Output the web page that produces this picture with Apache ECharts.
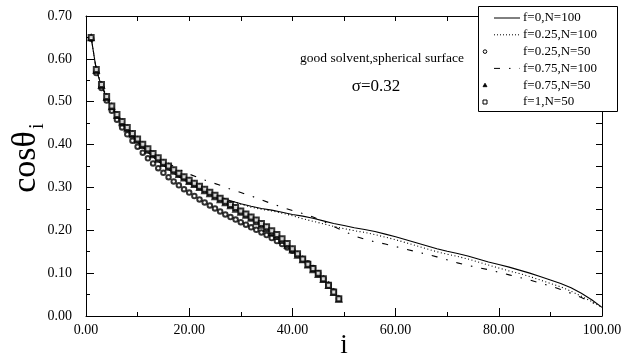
<!DOCTYPE html>
<html><head><meta charset="utf-8">
<script src="https://cdn.jsdelivr.net/npm/echarts@6/dist/echarts.min.js"></script>
<style>html,body{margin:0;padding:0;background:#fff}#c{width:625px;height:360px}</style>
</head><body><div id="c"></div>
<script>
// index positions for N=100 curves
var iLine = [1,2,3,4,5,6,8,10,12,14,16,18,20,22,24,26,28,30,32,34,36,38,40,42,44,46,48,50,52,54,56,58,60,62,64,66,68,70,72,74,76,78,80,82,84,86,88,90,92,94,96,98,100];
var f0N100 = [0.650,0.573,0.537,0.509,0.486,0.466,
  0.434,0.406,0.382,0.361,0.342,0.325,0.310,0.297,0.286,0.277,
  0.269,0.262,0.256,0.251,0.247,0.242,0.237,0.233,0.228,0.222,
  0.216,0.211,0.206,0.202,0.197,0.191,0.185,0.178,0.171,0.164,
  0.157,0.151,0.146,0.140,0.133,0.126,0.120,0.114,0.107,0.100,
  0.092,0.084,0.076,0.066,0.053,0.038,0.020];
var f025N100 = [0.650,0.574,0.538,0.510,0.487,0.467,
  0.435,0.407,0.383,0.362,0.343,0.327,0.312,0.299,0.288,0.278,
  0.269,0.261,0.254,0.249,0.245,0.240,0.234,0.227,0.221,0.215,
  0.209,0.204,0.199,0.195,0.190,0.184,0.178,0.171,0.164,0.157,
  0.150,0.144,0.139,0.133,0.126,0.119,0.112,0.105,0.099,0.092,
  0.084,0.076,0.068,0.058,0.046,0.034,0.020];
var f075N100 = [0.650,0.575,0.540,0.512,0.489,0.470,
  0.438,0.413,0.391,0.372,0.356,0.342,0.331,0.322,0.313,0.305,
  0.296,0.288,0.280,0.271,0.262,0.254,0.246,0.239,0.231,0.221,
  0.209,0.198,0.187,0.179,0.173,0.168,0.162,0.156,0.150,0.144,
  0.138,0.131,0.124,0.118,0.113,0.108,0.102,0.096,0.090,0.084,
  0.077,0.070,0.062,0.053,0.043,0.032,0.022];
// N=50 chains, i = 1..49
var i50 = [1,2,3,4,5,6,7,8,9,10,11,12,13,14,15,16,17,18,19,20,21,22,23,24,25,26,27,28,29,30,31,32,33,34,35,36,37,38,39,40,41,42,43,44,45,46,47,48,49];
var f025N50 = [0.647,0.567,0.532,0.503,0.479,0.458,0.440,0.424,0.409,0.395,
  0.381,0.368,0.356,0.345,0.334,0.324,0.314,0.305,0.296,0.288,
  0.280,0.272,0.265,0.258,0.251,0.244,0.237,0.231,0.225,0.219,
  0.213,0.207,0.201,0.195,0.189,0.182,0.175,0.168,0.160,0.152,
  0.143,0.133,0.123,0.112,0.100,0.087,0.073,0.057,0.040];
var f075N50 = [0.649,0.573,0.538,0.510,0.488,0.468,0.451,0.437,0.423,0.410,
  0.398,0.387,0.376,0.366,0.356,0.347,0.338,0.330,0.322,0.314,
  0.307,0.300,0.292,0.285,0.278,0.271,0.264,0.257,0.249,0.242,
  0.235,0.228,0.220,0.212,0.204,0.195,0.186,0.176,0.165,0.154,
  0.142,0.131,0.119,0.108,0.097,0.085,0.071,0.055,0.039];
var f1N50 = [0.650,0.575,0.540,0.512,0.490,0.470,0.454,0.440,0.426,0.413,
  0.401,0.390,0.379,0.369,0.359,0.350,0.341,0.333,0.325,0.317,
  0.310,0.303,0.296,0.289,0.282,0.275,0.268,0.260,0.253,0.245,
  0.238,0.231,0.224,0.216,0.208,0.199,0.190,0.180,0.169,0.157,
  0.145,0.133,0.121,0.111,0.100,0.087,0.072,0.056,0.040];
var seriesNames = ['f=0,N=100','f=0.25,N=100','f=0.25,N=50','f=0.75,N=100','f=0.75,N=50','f=1,N=50'];
var titleText = 'good solvent,spherical surface';
var sigmaText = '\u03c3=0.32';

function pairs(xs, ys){ return ys.map(function(v,k){ return [xs[k], v]; }); }
var SERIF = 'Liberation Serif';
var INK = '#000';

var chart = echarts.init(document.getElementById('c'), null, {renderer:'canvas'});

// legend (drawn as graphic)
var LX = 478, LY = 6, LW = 139, LH = 105, rowY0 = 18, rowDY = 16.8;
var legendEls = [{type:'rect', shape:{x:LX+0.5,y:LY+0.5,width:LW,height:LH}, style:{fill:'#fff',stroke:INK,lineWidth:1}, z:100}];
seriesNames.forEach(function(n,k){
  var y = rowY0 + k*rowDY;
  legendEls.push({type:'text', x:523, y:y, z:101, style:{text:n, font:'13px "'+SERIF+'"', fill:INK, align:'left', verticalAlign:'middle'}});
});
legendEls.push({type:'line', z:101, shape:{x1:494,y1:rowY0,x2:520,y2:rowY0}, style:{stroke:INK,lineWidth:1}});
legendEls.push({type:'line', z:101, shape:{x1:494,y1:rowY0+rowDY,x2:520,y2:rowY0+rowDY}, style:{stroke:INK,lineWidth:1,lineDash:[1,2]}});
legendEls.push({type:'circle', z:101, shape:{cx:485,cy:rowY0+2*rowDY,r:1.8}, style:{fill:'#fff',stroke:INK,lineWidth:1}});
legendEls.push({type:'line', z:101, shape:{x1:494,y1:rowY0+3*rowDY,x2:520,y2:rowY0+3*rowDY}, style:{stroke:INK,lineWidth:1,lineDash:[6,9,1.5,9]}});
legendEls.push({type:'polygon', z:101, shape:{points:[[485,rowY0+4*rowDY-2],[483,rowY0+4*rowDY+1.5],[487,rowY0+4*rowDY+1.5]]}, style:{fill:INK,stroke:INK,lineWidth:0.8}});
legendEls.push({type:'rect', z:101, shape:{x:483,y:rowY0+5*rowDY-2,width:4,height:4}, style:{fill:'#fff',stroke:INK,lineWidth:1}});

var option = {
  backgroundColor:'#fff',
  animation:false,
  grid:{left:86, right:23, top:16, bottom:44, containLabel:false, outerBoundsMode:'none'},
  xAxis:[{
    type:'value', min:0, max:100, interval:20, position:'bottom',
    axisLine:{show:true, onZero:false, lineStyle:{color:INK,width:1}},
    axisTick:{show:true, inside:true, length:8, lineStyle:{color:INK}},
    minorTick:{show:true, splitNumber:2, length:4, lineStyle:{color:INK}},
    splitLine:{show:false},
    axisLabel:{margin:7, color:INK, fontFamily:SERIF, fontSize:14, formatter:function(v){return v.toFixed(2);}},
    name:'i', nameLocation:'middle', nameGap:16, nameMoveOverlap:false,
    nameTextStyle:{fontFamily:SERIF, fontSize:27, color:INK}
  },{
    type:'value', min:0, max:100, interval:10, position:'top',
    axisLine:{show:true, onZero:false, lineStyle:{color:INK,width:1}},
    axisTick:{show:true, inside:true, length:5, lineStyle:{color:INK}},
    axisLabel:{show:false}, splitLine:{show:false}
  }],
  yAxis:[{
    type:'value', min:0, max:0.7, interval:0.1, position:'left',
    axisLine:{show:true, onZero:false, lineStyle:{color:INK,width:1}},
    axisTick:{show:true, inside:true, length:8, lineStyle:{color:INK}},
    minorTick:{show:true, splitNumber:2, length:4, lineStyle:{color:INK}},
    splitLine:{show:false},
    axisLabel:{margin:14, color:INK, fontFamily:SERIF, fontSize:14, formatter:function(v){return v.toFixed(2);}}
  },{
    type:'value', min:0, max:0.7, interval:0.05, position:'right',
    axisLine:{show:true, onZero:false, lineStyle:{color:INK,width:1}},
    axisTick:{show:true, inside:true, length:6, lineStyle:{color:INK}},
    axisLabel:{show:false}, splitLine:{show:false}
  }],
  series:[
    {name:seriesNames[0], type:'line', data:pairs(iLine,f0N100), showSymbol:false, symbol:'none', lineStyle:{color:INK,width:1.1,type:'solid'}, z:3},
    {name:seriesNames[1], type:'line', data:pairs(iLine,f025N100), showSymbol:false, symbol:'none', lineStyle:{color:INK,width:1.1,type:[1,2.5]}, z:3},
    {name:seriesNames[2], type:'scatter', data:pairs(i50,f025N50), symbol:'emptyCircle', symbolSize:4.5, itemStyle:{color:INK,borderWidth:0.9}, z:4},
    {name:seriesNames[3], type:'line', data:pairs(iLine,f075N100), showSymbol:false, symbol:'none', lineStyle:{color:INK,width:1.1,type:[6,9,1.5,9]}, z:3},
    {name:seriesNames[4], type:'scatter', data:pairs(i50,f075N50), symbol:'emptyTriangle', symbolSize:5, itemStyle:{color:INK,borderWidth:0.9}, z:4},
    {name:seriesNames[5], type:'scatter', data:pairs(i50,f1N50), symbol:'emptyRect', symbolSize:5, itemStyle:{color:INK,borderWidth:0.9}, z:5}
  ],
  graphic:[
    {type:'group', children:legendEls},
    {type:'text', x:382, y:58, style:{text:titleText, font:'13.5px "'+SERIF+'"', fill:INK, align:'center', verticalAlign:'middle'}},
    {type:'text', x:376, y:87, style:{text:sigmaText, font:'17px "'+SERIF+'"', fill:INK, align:'center', verticalAlign:'middle'}},
    {type:'group', x:26, y:162, rotation:Math.PI/2, children:[
      {type:'text', x:0, y:0, style:{text:'cos\u03b8', font:'34px "'+SERIF+'"', fill:INK, align:'center', verticalAlign:'middle'}},
      {type:'text', x:33, y:12, style:{text:'i', font:'20px "'+SERIF+'"', fill:INK, align:'left', verticalAlign:'middle'}}
    ]}
  ]
};
chart.setOption(option);
</script>
</body></html>
